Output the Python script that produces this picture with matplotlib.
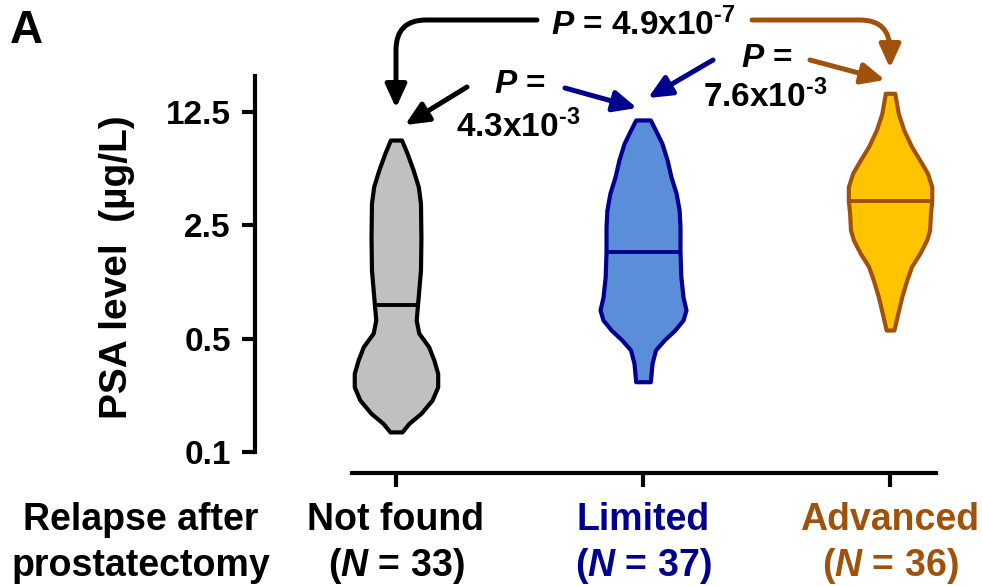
import numpy as np
import matplotlib.pyplot as plt
import matplotlib.transforms as mtransforms

plt.rcParams['font.family'] = 'Liberation Sans'
plt.rcParams['font.weight'] = 'bold'
plt.rcParams['mathtext.fontset'] = 'custom'
plt.rcParams['mathtext.rm'] = 'Liberation Sans:bold'
plt.rcParams['mathtext.it'] = 'Liberation Sans:italic:bold'
plt.rcParams['mathtext.bf'] = 'Liberation Sans:bold'

# groups
groups = ['Not found', 'Limited', 'Advanced']
n_patients = [33, 37, 36]
medians = [0.80, 1.71, 3.53]

# violin outlines, top to bottom: PSA level (ug/L) and relative density
nf_psa = [8.35, 6.9, 5.45, 4.3, 3.4, 2.1, 1.32, 0.86, 0.65, 0.54, 0.445,
          0.369, 0.305, 0.252, 0.209, 0.173, 0.150, 0.133]
nf_dens = [0.13, 0.26, 0.40, 0.52, 0.57, 0.58, 0.57, 0.51, 0.47, 0.53, 0.76,
           0.88, 0.97, 0.97, 0.84, 0.58, 0.30, 0.14]

lim_psa = [11.1, 9.6, 7.96, 6.29, 4.96, 3.92, 3.09, 2.44, 1.71, 1.20, 0.90,
           0.75, 0.65, 0.564, 0.489, 0.425, 0.352, 0.271]
lim_dens = [0.17, 0.29, 0.44, 0.56, 0.65, 0.77, 0.84, 0.86, 0.86, 0.88, 0.93,
            1.00, 0.93, 0.74, 0.49, 0.29, 0.21, 0.17]

adv_psa = [16.2, 12.2, 9.6, 7.6, 6.29, 5.21, 4.30, 3.53, 2.95, 2.33, 2.02,
           1.67, 1.39, 1.15, 0.90, 0.715, 0.564]
adv_dens = [0.11, 0.19, 0.32, 0.50, 0.69, 0.87, 0.97, 0.97, 0.94, 0.92, 0.85,
            0.69, 0.50, 0.39, 0.27, 0.18, 0.09]

yticks = [0.1, 0.5, 2.5, 12.5]
ytick_labels = ['0.1', '0.5', '2.5', '12.5']

# pairwise P values (mantissa, exponent)
p_nf_lim = (4.3, -3)
p_lim_adv = (7.6, -3)
p_nf_adv = (4.9, -7)

fills = ['#C0C0C0', '#5A8ED8', '#FFC400']
edges = ['black', '#00008F', '#A0520C']

W, H = 983, 586
fig = plt.figure(figsize=(W / 100, H / 100), dpi=100)
ax = fig.add_axes([352 / W, 1 - 452 / H, (936 - 352) / W, (452 - 76) / H])

# pixel coordinates, origin top-left
px = mtransforms.Affine2D().scale(1 / W, -1 / H).translate(0, 1) + fig.transFigure

half_w = 43 / 247
outlines = [(nf_psa, nf_dens), (lim_psa, lim_dens), (adv_psa, adv_dens)]
for i, (psa, dens) in enumerate(outlines):
    psa = np.array(psa)
    hw = np.array(dens) * half_w
    ax.fill_betweenx(psa, i - hw, i + hw, facecolor=fills[i],
                     edgecolor=edges[i], lw=3.0, joinstyle='round', zorder=2)
    m_hw = np.interp(np.log(medians[i]), np.log(psa[::-1]), hw[::-1])
    ax.plot([i - m_hw, i + m_hw], [medians[i]] * 2, color=edges[i], lw=2.8,
            solid_capstyle='butt', zorder=3)

ax.set_yscale('log')
ax.set_ylim(0.1, 20.7)
ax.set_xlim(-0.178, 2.186)
ax.set_yticks(yticks)
ax.set_yticklabels(ytick_labels)
ax.yaxis.set_minor_locator(plt.NullLocator())
ax.set_xticks([0, 1, 2])
ax.tick_params(axis='y', length=9.5, width=3, pad=8, labelsize=24)
ax.tick_params(axis='x', length=10, width=3, labelbottom=False)
for s in ['top', 'right']:
    ax.spines[s].set_visible(False)
for s in ['left', 'bottom']:
    ax.spines[s].set_linewidth(3)
ax.spines['left'].set_position(('outward', 69.8))
ax.spines['bottom'].set_position(('outward', 14.9))

# category labels under the axis
trans = mtransforms.blended_transform_factory(ax.transData, px)
for i, g in enumerate(groups):
    ax.text(i, 530, g, transform=trans, ha='center', va='baseline',
            fontsize=27, color=edges[i])
    ax.text(i, 576, r'($\mathit{N}$ = %d)' % n_patients[i], transform=trans,
            ha='center', va='baseline', fontsize=27, color=edges[i])
fig.text(141, 530, 'Relapse after', transform=px, ha='center',
         va='baseline', fontsize=27)
fig.text(141, 576, 'prostatectomy', transform=px, ha='center',
         va='baseline', fontsize=27)

fig.text(117, 267, 'PSA level  (µg/L)', transform=px, rotation=90,
         ha='center', va='center', fontsize=28)
fig.text(10, 43, 'A', transform=px, ha='left', va='baseline', fontsize=33)


def ptext(p):
    # plain hyphen in the exponent
    return '%.1fx$10^{\u2010%d}$' % (p[0], abs(p[1]))


fig.text(643, 35, r'$\mathit{P}$ = ' + ptext(p_nf_adv), transform=px,
         ha='center', va='baseline', fontsize=24)
fig.text(520, 93, r'$\mathit{P}$ =', transform=px, ha='center',
         va='baseline', fontsize=24)
fig.text(518, 137, ptext(p_nf_lim), transform=px, ha='center',
         va='baseline', fontsize=24)
fig.text(767, 67, r'$\mathit{P}$ =', transform=px, ha='center',
         va='baseline', fontsize=24)
fig.text(765, 107, ptext(p_lim_adv), transform=px, ha='center',
         va='baseline', fontsize=24)


def arrow(start, tip, color, conn='arc3'):
    ax.annotate('', xy=tip, xytext=start, xycoords=px, textcoords=px,
                annotation_clip=False,
                arrowprops=dict(arrowstyle='-|>,head_length=0.7,head_width=0.32',
                                connectionstyle=conn, color=color, lw=3.6,
                                shrinkA=0, shrinkB=0, mutation_scale=20))


arrow((537, 20), (396, 108), edges[0], 'angle,angleA=0,angleB=90,rad=30')
arrow((467, 87), (405, 125), edges[0])
arrow((565, 88), (637, 108), edges[1])
arrow((713, 60), (648, 98), edges[1])
arrow((810, 60), (885, 80), edges[2])
arrow((752, 20), (890, 68), edges[2], 'angle,angleA=0,angleB=90,rad=30')

fig.savefig('out.png', dpi=100)
